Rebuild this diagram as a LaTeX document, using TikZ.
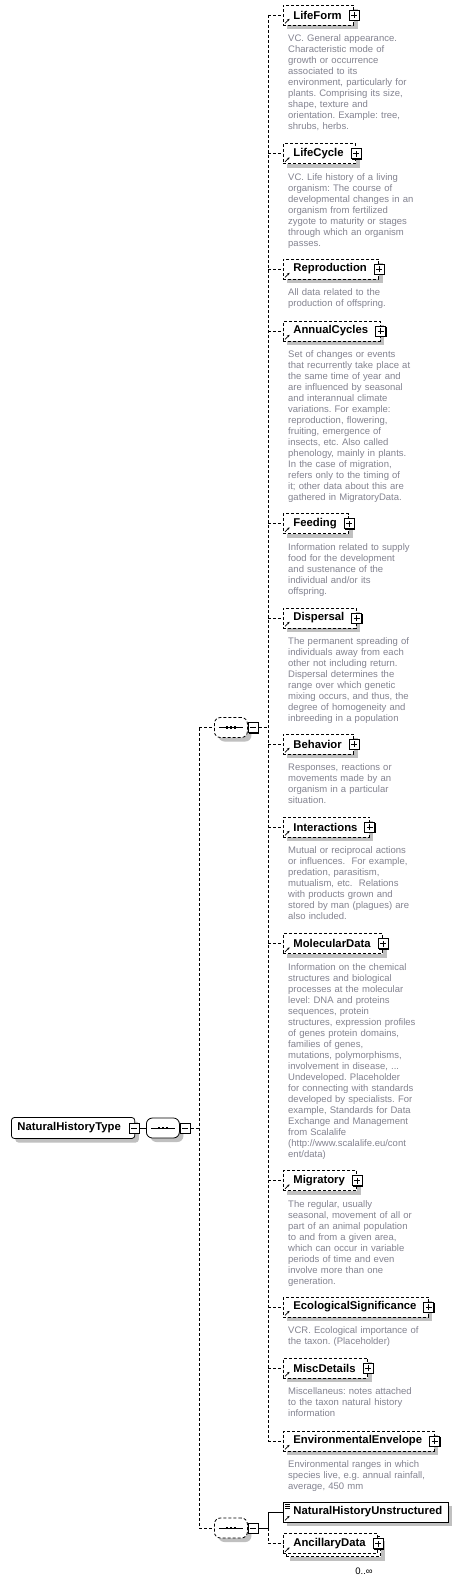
\documentclass[tikz,border=0pt]{standalone}
\usepackage{fontspec}
\setmainfont{Liberation Sans}
\usetikzlibrary{shadows, arrows.meta}

\definecolor{descgray}{RGB}{132,132,145}
\definecolor{shadowgray}{RGB}{192,192,192}
\newcommand{\labelfont}{\fontsize{11.3pt}{13pt}\selectfont\bfseries}
\newcommand{\descfont}{\fontsize{9.5pt}{11pt}\selectfont}
\frenchspacing

\tikzset{
    conn/.style={line width=0.8pt, dash pattern=on 3pt off 2pt},
    solidconn/.style={line width=0.8pt},
    grayshadow/.style={drop shadow={shadow xshift=4pt, shadow yshift=-4pt, fill=shadowgray, opacity=1}},
    elemflat/.style={draw, line width=0.8pt, dash pattern=on 3pt off 2pt, fill=white, anchor=west,
        minimum height=20pt, inner xsep=0pt, inner ysep=0pt, font=\labelfont},
    elem/.style={elemflat, grayshadow},
    desc/.style={anchor=base west, text width=140pt, align=left, inner sep=0pt, font=\descfont, text=descgray},
    boxbase/.style={draw, solid, line width=0.8pt, fill=white, minimum size=10pt, inner sep=0pt,
        drop shadow={shadow xshift=1pt, shadow yshift=-1pt, fill=black, opacity=1}},
    minusbox/.style={boxbase, path picture={
        \draw[line width=0.8pt] ([xshift=-3pt]path picture bounding box.center) -- ([xshift=3pt]path picture bounding box.center);}},
    plusbox/.style={boxbase, path picture={
        \draw[line width=0.8pt] ([xshift=-3pt]path picture bounding box.center) -- ([xshift=3pt]path picture bounding box.center);
        \draw[line width=0.8pt] ([yshift=-3pt]path picture bounding box.center) -- ([yshift=3pt]path picture bounding box.center);}},
    seq/.style={rectangle, rounded corners=6pt, draw, line width=0.8pt,
        fill=white, minimum width=33pt, minimum height=20pt, inner sep=0pt, anchor=west, grayshadow,
        path picture={
            \draw[solid, black, line width=0.8pt] ([xshift=-12pt]path picture bounding box.center) -- ([xshift=12pt]path picture bounding box.center);
            \foreach \dx in {-4,0,4}
                \fill[black, sharp corners] ([shift={(\dx pt-1.4pt,-1.4pt)}]path picture bounding box.center) rectangle ++(2.8pt,2.8pt);}},
    seqopt/.style={seq, dash pattern=on 3pt off 2pt},
    rootbox/.style={rectangle, rounded corners=3pt, draw, line width=0.8pt,
        fill=white, anchor=west, minimum height=21pt, inner xsep=0pt, inner ysep=0pt, font=\labelfont, grayshadow},
    icon/.style={solid, line width=0.7pt, -{Stealth[length=2.4pt, width=2.4pt]}}
}

\begin{document}
\begin{tikzpicture}[x=1pt, y=-1pt]
    \useasboundingbox[fill=white] (0,0) rectangle (463,1595);

    % root and sequences
    \node[rootbox] (root) at (11,1128) {\kern6pt NaturalHistoryType\kern14pt};
    \node[minusbox] (root-m) at ([xshift=-1pt]root.east) {};
    \node[seq] (seqM) at (146,1128) {};
    \node[minusbox, anchor=west] (seqM-m) at (seqM.east) {};
    \node[seqopt] (seqA) at (214,727.5) {};
    \node[minusbox, anchor=west] (seqA-m) at (seqA.east) {};
    \node[seqopt] (seqB) at (214,1528) {};
    \node[minusbox, anchor=west] (seqB-m) at (seqB.east) {};

    % elements of the first sequence
    \node[elem] (lifeform) at (283,15) {\kern10pt LifeForm\kern12pt};
    \node[desc] (lifeform-d) at ([xshift=5pt, yshift=-16.5pt]lifeform.south west) {VC. General appearance.\\
        Characteristic mode of\\ growth or occurrence\\ associated to its\\ environment, particularly for\\
        plants. Comprising its size,\\ shape, texture and\\ orientation. Example: tree,\\ shrubs, herbs.};
    \node[elem] (lifecycle) at (283,153.5) {\kern10pt LifeCycle\kern12pt};
    \node[desc] (lifecycle-d) at ([xshift=5pt, yshift=-16.5pt]lifecycle.south west) {VC. Life history of a living\\
        organism: The course of\\ developmental changes in an\\ organism from fertilized\\ zygote to maturity or stages\\
        through which an organism\\ passes.};
    \node[elem] (reproduction) at (283,269) {\kern10pt Reproduction\kern12pt};
    \node[desc] (reproduction-d) at ([xshift=5pt, yshift=-16.5pt]reproduction.south west) {All data related to the\\
        production of offspring.};
    \node[elem] (annual) at (283,331) {\kern10pt AnnualCycles\kern12pt};
    \node[desc] (annual-d) at ([xshift=5pt, yshift=-16.5pt]annual.south west) {Set of changes or events\\
        that recurrently take place at\\ the same time of year and\\ are influenced by seasonal\\ and interannual climate\\
        variations. For example:\\ reproduction, flowering,\\ fruiting, emergence of\\ insects, etc. Also called\\
        phenology, mainly in plants.\\ In the case of migration,\\ refers only to the timing of\\
        it; other data about this are\\ gathered in MigratoryData.};
    \node[elem] (feeding) at (283,523.5) {\kern10pt Feeding\kern12pt};
    \node[desc] (feeding-d) at ([xshift=5pt, yshift=-16.5pt]feeding.south west) {Information related to supply\\
        food for the development\\ and sustenance of the\\ individual and/or its\\ offspring.};
    \node[elem] (dispersal) at (283,618) {\kern10pt Dispersal\kern12pt};
    \node[desc] (dispersal-d) at ([xshift=5pt, yshift=-16.5pt]dispersal.south west) {The permanent spreading of\\
        individuals away from each\\ other not including return.\\ Dispersal determines the\\ range over which genetic\\
        mixing occurs, and thus, the\\ degree of homogeneity and\\ inbreeding in a population};
    \node[elem] (behavior) at (283,744) {\kern10pt Behavior\kern12pt};
    \node[desc] (behavior-d) at ([xshift=5pt, yshift=-16.5pt]behavior.south west) {Responses, reactions or\\
        movements made by an\\ organism in a particular\\ situation.};
    \node[elem] (interactions) at (283,827) {\kern10pt Interactions\kern12pt};
    \node[desc] (interactions-d) at ([xshift=5pt, yshift=-16.5pt]interactions.south west) {Mutual or reciprocal actions\\
        or influences.~ For example,\\ predation, parasitism,\\ mutualism, etc.~ Relations\\ with products grown and\\
        stored by man (plagues) are\\ also included.};
    \node[elem] (molecular) at (283,943.5) {\kern10pt MolecularData\kern12pt};
    \node[desc] (molecular-d) at ([xshift=5pt, yshift=-16.5pt]molecular.south west) {Information on the chemical\\
        structures and biological\\ processes at the molecular\\ level: DNA and proteins\\ sequences, protein\\
        structures, expression profiles\\ of genes protein domains,\\ families of genes,\\ mutations, polymorphisms,\\
        involvement in disease, ...\\ Undeveloped. Placeholder\\ for connecting with standards\\
        developed by specialists. For\\ example, Standards for Data\\ Exchange and Management\\ from Scalalife\\
        (http://www.scalalife.eu/cont\\ ent/data)};
    \node[elem] (migratory) at (283,1180.5) {\kern10pt Migratory\kern12pt};
    \node[desc] (migratory-d) at ([xshift=5pt, yshift=-16.5pt]migratory.south west) {The regular, usually\\
        seasonal, movement of all or\\ part of an animal population\\ to and from a given area,\\
        which can occur in variable\\ periods of time and even\\ involve more than one\\ generation.};
    \node[elem] (ecosig) at (283,1307) {\kern10pt EcologicalSignificance\kern12pt};
    \node[desc] (ecosig-d) at ([xshift=5pt, yshift=-16.5pt]ecosig.south west) {VCR. Ecological importance of\\
        the taxon. (Placeholder)};
    \node[elem] (misc) at (283,1368) {\kern10pt MiscDetails\kern12pt};
    \node[desc] (misc-d) at ([xshift=5pt, yshift=-16.5pt]misc.south west) {Miscellaneus: notes attached\\
        to the taxon natural history\\ information};
    \node[elem] (envenv) at (283,1441) {\kern10pt EnvironmentalEnvelope\kern12pt};
    \node[desc] (envenv-d) at ([xshift=5pt, yshift=-16.5pt]envenv.south west) {Environmental ranges in which\\
        species live, e.g. annual rainfall,\\ average, 450 mm};

    % elements of the second sequence
    \node[elem, solid] (unstruct) at (283,1512) {\kern10pt NaturalHistoryUnstructured\kern6pt};
    \node[elem] (ancillary-back) at (286,1546.5) {\kern10pt AncillaryData\kern12pt};
    \node[elemflat] (ancillary) at (283,1543.5) {\kern10pt AncillaryData\kern12pt};
    \node[font=\descfont] (ancillary-occ) at ([xshift=-14pt, yshift=-17pt]ancillary.south east) {0..\char"221E};

    \foreach \n in {lifeform, lifecycle, reproduction, annual, feeding, dispersal, behavior, interactions,
        molecular, migratory, ecosig, misc, envenv, ancillary} {
        \node[plusbox] (\n-p) at (\n.east) {};
    }
    \foreach \n in {lifeform, lifecycle, reproduction, annual, feeding, dispersal, behavior, interactions,
        molecular, migratory, ecosig, misc, envenv, ancillary, unstruct} {
        \draw[icon] ([shift={(2pt,2pt)}]\n.south west) -- ++(4.5pt,4.5pt);
    }
    \foreach \k in {0,1,2}
        \draw[line width=0.4pt] ([shift={(2pt,{-2.5pt-2pt*\k})}]unstruct.north west) -- ++(5pt,0pt);

    % connectors
    \coordinate (busM) at (199,0);
    \coordinate (busA) at (268,0);
    \draw[solidconn] (root-m.east) -- (seqM.west);
    \draw[conn] (seqM-m.east) -- (busM |- seqM-m.east);
    \draw[conn] (busM |- seqA.west) -- (busM |- seqB.west);
    \draw[conn] (busM |- seqA.west) -- (seqA.west);
    \draw[conn] (busM |- seqB.west) -- (seqB.west);
    \draw[conn] (seqA-m.east) -- (busA |- seqA-m.east);
    \draw[conn] (busA |- lifeform.west) -- (busA |- envenv.west);
    \foreach \n in {lifeform, lifecycle, reproduction, annual, feeding, dispersal, behavior, interactions,
        molecular, migratory, ecosig, misc, envenv}
        \draw[conn] (busA |- \n.west) -- (\n.west);
    \draw[solidconn] (seqB-m.east) -- (busA |- seqB-m.east) |- (unstruct.west);
    \draw[conn] (busA |- seqB-m.east) |- (ancillary.west);
\end{tikzpicture}
\end{document}
